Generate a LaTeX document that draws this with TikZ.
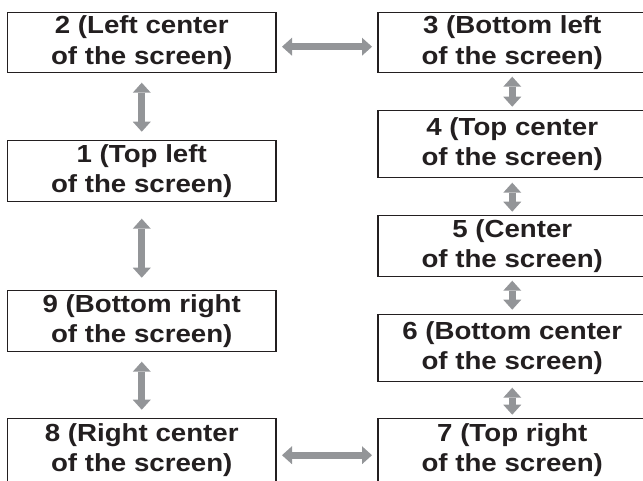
\documentclass[tikz,border=0pt]{standalone}
\usepackage{fontspec}
\setmainfont{Liberation Sans}[FakeStretch=1.12]
\usepackage{tikz}
\usetikzlibrary{arrows.meta,positioning}
\definecolor{arrowgray}{RGB}{147,149,152}
\definecolor{inkblack}{RGB}{35,31,32}
\tikzset{
  spotbox/.style={draw=inkblack, line width=1.2pt, fill=white, text=inkblack,
    minimum width=268.5pt, inner sep=0pt, outer sep=0pt,
    align=center, font=\fontsize{24.7}{30.5}\selectfont\bfseries,
    execute at begin node={\rule{0pt}{26pt}}},
  swaparr/.style={{Triangle[width=18pt,length=10pt,line width=0pt]}-{Triangle[width=18pt,length=10pt,line width=0pt]},
    line width=7pt, draw=arrowgray},
}

\begin{document}
\begin{tikzpicture}[x=1pt, y=1pt]
  \useasboundingbox (0,0) rectangle (643,-480);

  % left column
  \node[spotbox, minimum height=60pt] (p2) at (141.75,-42.7) {2 (Left center\\of the screen)};
  \node[spotbox, minimum height=61pt, below=68pt of p2] (p1) {1 (Top left\\of the screen)};
  \node[spotbox, minimum height=61pt, below=89pt of p1] (p9) {9 (Bottom right\\of the screen)};
  \node[spotbox, minimum height=63pt, below=67pt of p9] (p8) {8 (Right center\\of the screen)};

  % right column
  \node[spotbox, minimum height=60pt, right=102pt of p2] (p3) {3 (Bottom left\\of the screen)};
  \node[spotbox, minimum height=67pt, below=38pt of p3] (p4) {4 (Top center\\of the screen)};
  \node[spotbox, minimum height=61pt, below=38pt of p4] (p5) {5 (Center\\of the screen)};
  \node[spotbox, minimum height=67pt, below=38pt of p5] (p6) {6 (Bottom center\\of the screen)};
  \node[spotbox, minimum height=63pt, below=37pt of p6] (p7) {7 (Top right\\of the screen)};

  % arrows
  \draw[swaparr, shorten <=6pt, shorten >=6pt] ([yshift=-4pt]p2.east) -- ([yshift=-4pt]p3.west);
  \draw[swaparr, shorten <=10pt, shorten >=9pt] (p2) -- (p1);
  \draw[swaparr, shorten <=17pt, shorten >=13pt] (p1) -- (p9);
  \draw[swaparr, shorten <=10pt, shorten >=9pt] (p9) -- (p8);
  \draw[swaparr, shorten <=6pt, shorten >=6pt] ([yshift=-5pt]p8.east) -- ([yshift=-5pt]p7.west);
  \draw[swaparr, shorten <=4pt, shorten >=4pt] (p3) -- (p4);
  \draw[swaparr, shorten <=5pt, shorten >=4pt] (p4) -- (p5);
  \draw[swaparr, shorten <=4pt, shorten >=5pt] (p5) -- (p6);
  \draw[swaparr, shorten <=6pt, shorten >=4pt] (p6) -- (p7);
\end{tikzpicture}
\end{document}
